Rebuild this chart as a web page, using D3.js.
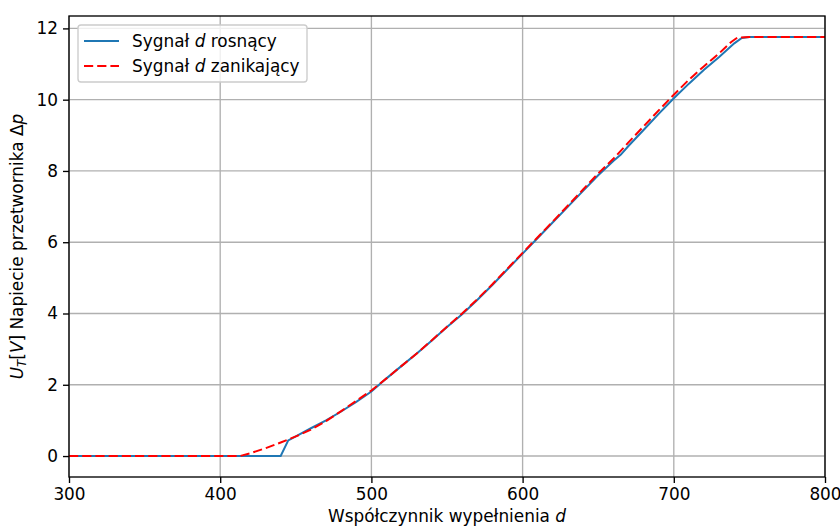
<!DOCTYPE html>
<html>
<head>
<meta charset="utf-8">
<script src="https://cdn.jsdelivr.net/npm/d3@7/dist/d3.min.js"></script>
<style>
  body { margin: 0; background: #fff; }
  svg { display: block; font-family: "DejaVu Sans", sans-serif; }
</style>
</head>
<body>
<svg id="chart" width="840" height="528"></svg>
<script>
// ---- data ----
const risingX = [300, 440, 445, 450, 460, 470, 480, 490, 500, 510, 520, 530, 540, 550, 560, 570, 580, 590, 600, 610, 620, 630, 640, 650, 660, 665, 670, 680, 690, 700, 710, 720, 730, 740, 745, 750, 800];
const risingY = [0, 0, 0.44, 0.55, 0.78, 1.0, 1.25, 1.52, 1.81, 2.18, 2.53, 2.88, 3.24, 3.62, 3.98, 4.38, 4.8, 5.24, 5.68, 6.12, 6.56, 7.0, 7.44, 7.88, 8.28, 8.46, 8.7, 9.15, 9.6, 10.04, 10.45, 10.84, 11.2, 11.58, 11.73, 11.76, 11.76];
const fallingX = [300, 413, 420, 430, 440, 450, 460, 470, 480, 490, 500, 510, 520, 530, 540, 550, 560, 570, 580, 590, 600, 610, 620, 630, 640, 650, 660, 670, 680, 690, 700, 710, 720, 730, 738, 742, 750, 800];
const fallingY = [0, 0, 0.08, 0.22, 0.38, 0.55, 0.74, 0.98, 1.26, 1.55, 1.84, 2.18, 2.53, 2.88, 3.25, 3.63, 4.0, 4.4, 4.82, 5.26, 5.7, 6.14, 6.58, 7.03, 7.48, 7.93, 8.34, 8.8, 9.25, 9.7, 10.14, 10.56, 10.94, 11.3, 11.62, 11.74, 11.76, 11.76];
const xTicks = [300, 400, 500, 600, 700, 800];
const yTicks = [0, 2, 4, 6, 8, 10, 12];
const seriesNames = ["rosnący", "zanikający"];

// ---- layout ----
const svg = d3.select("#chart");
const L = 69, R = 825, T = 16, B = 477;
const allY = risingY.concat(fallingY);
const yMin = d3.min(allY), yMax = d3.max(allY);
const pad = (yMax - yMin) * 0.05;
const x = d3.scaleLinear().domain([300, 800]).range([L, R]);
const y = d3.scaleLinear().domain([yMin - pad, yMax + pad]).range([B, T]);

const fs = 16.9;
const lw = 2.0;
const dash = "9.2,4";
const g = svg.append("g");

// grid
g.selectAll(".gx").data(xTicks).enter().append("line")
  .attr("x1", d => x(d)).attr("x2", d => x(d)).attr("y1", T).attr("y2", B)
  .attr("stroke", "#b0b0b0").attr("stroke-width", 1.35);
g.selectAll(".gy").data(yTicks).enter().append("line")
  .attr("y1", d => y(d)).attr("y2", d => y(d)).attr("x1", L).attr("x2", R)
  .attr("stroke", "#b0b0b0").attr("stroke-width", 1.35);

// lines
svg.append("clipPath").attr("id", "clip").append("rect")
  .attr("x", L).attr("y", T).attr("width", R - L).attr("height", B - T);
const line = d3.line().x(d => x(d[0])).y(d => y(d[1]));
const rising = risingX.map((v, i) => [v, risingY[i]]);
const falling = fallingX.map((v, i) => [v, fallingY[i]]);
g.append("path").datum(rising).attr("d", line).attr("clip-path", "url(#clip)")
  .attr("fill", "none").attr("stroke", "#1f77b4").attr("stroke-width", lw);
g.append("path").datum(falling).attr("d", line).attr("clip-path", "url(#clip)")
  .attr("fill", "none").attr("stroke", "#ff0000").attr("stroke-width", lw)
  .attr("stroke-dasharray", dash);

// axes
const xAxis = d3.axisBottom(x).tickValues(xTicks).tickSize(6).tickPadding(5).tickFormat(d3.format("d"));
const yAxis = d3.axisLeft(y).tickValues(yTicks).tickSize(6).tickPadding(5).tickFormat(d3.format("d"));
const gx = svg.append("g").attr("transform", `translate(0,${B})`).call(xAxis);
const gy = svg.append("g").attr("transform", `translate(${L},0)`).call(yAxis);
[gx, gy].forEach(a => {
  a.select(".domain").remove();
  a.selectAll(".tick line").attr("stroke", "#000").attr("stroke-width", 1.35);
  a.selectAll(".tick text").attr("fill", "#000").style("font-size", fs + "px").style("font-family", "DejaVu Sans");
});

// frame
svg.append("rect").attr("x", L).attr("y", T).attr("width", R - L).attr("height", B - T)
  .attr("fill", "none").attr("stroke", "#000").attr("stroke-width", 1.35);

// x label
const xl = svg.append("text").attr("x", (L + R) / 2).attr("y", 522)
  .attr("text-anchor", "middle").style("font-size", fs + "px");
xl.append("tspan").text("Współczynnik wypełnienia ");
xl.append("tspan").attr("font-style", "italic").text("d");

// y label
const yl = svg.append("text").attr("transform", `translate(23,${(T + B) / 2}) rotate(-90)`)
  .attr("text-anchor", "middle").style("font-size", fs + "px");
yl.append("tspan").attr("font-style", "italic").text("U");
yl.append("tspan").attr("font-style", "italic").attr("baseline-shift", "-25%").style("font-size", (fs * 0.7) + "px").text("T");
yl.append("tspan").text("[");
yl.append("tspan").attr("font-style", "italic").text("V");
yl.append("tspan").text("] Napiecie przetwornika Δ");
yl.append("tspan").attr("font-style", "italic").text("p");

// legend
const lg = svg.append("g");
lg.append("rect").attr("x", 78).attr("y", 25).attr("width", 229).attr("height", 57)
  .attr("rx", 3).attr("fill", "rgba(255,255,255,0.8)").attr("stroke", "#cccccc").attr("stroke-width", 1.35);
const entries = [
  { name: seriesNames[0], color: "#1f77b4", dash: null },
  { name: seriesNames[1], color: "#ff0000", dash: dash }
];
entries.forEach((e, i) => {
  const yy = 41 + i * 25;
  const ln = lg.append("line").attr("x1", 84).attr("x2", 119).attr("y1", yy).attr("y2", yy)
    .attr("stroke", e.color).attr("stroke-width", lw);
  if (e.dash) ln.attr("stroke-dasharray", e.dash);
  const t = lg.append("text").attr("x", 132).attr("y", yy + 6).style("font-size", fs + "px");
  t.append("tspan").text("Sygnał ");
  t.append("tspan").attr("font-style", "italic").text("d");
  t.append("tspan").text(" " + e.name);
});
</script>
</body>
</html>
